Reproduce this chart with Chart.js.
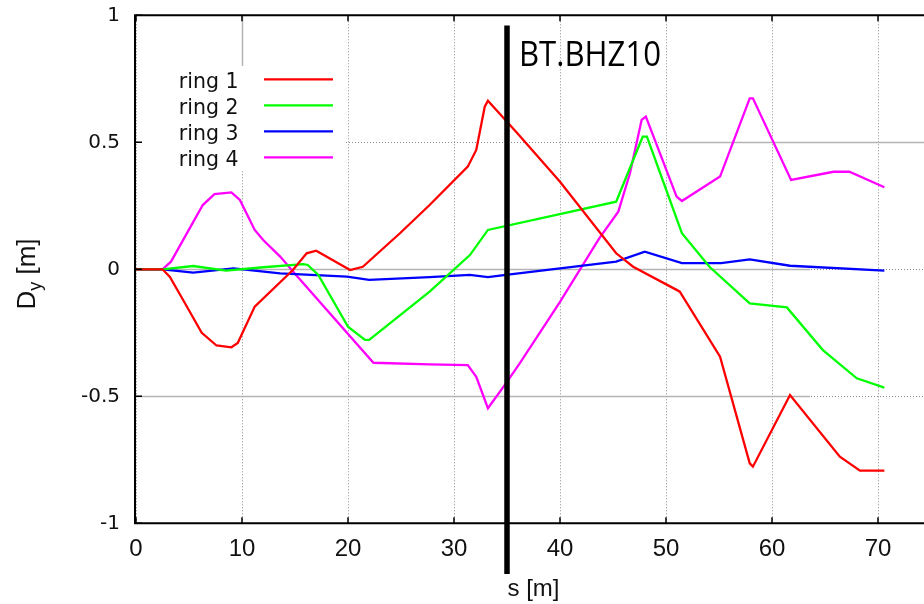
<!DOCTYPE html>
<html><head><meta charset="utf-8">
<script src="https://cdn.jsdelivr.net/npm/chart.js@4"></script>
<style>
html,body{margin:0;padding:0;background:#fff;overflow:hidden;width:924px;height:604px}
#wrap{position:absolute;left:0;top:0;width:944px;height:604px}
</style>
</head><body><div id="wrap"><canvas id="c"></canvas></div>
<script>
// ---- data ----
const seriesNames = ['ring 1', 'ring 2', 'ring 3', 'ring 4'];
const seriesColors = ['#ff0000', '#00ff00', '#0000ff', '#ff00ff'];

const ring1S = [0, 2.5, 3.2, 4.5, 6.2, 7.6, 9.0, 9.6, 11.2, 14.8, 16.1, 17.0, 20.2, 21.4, 24.9, 27.7, 31.3, 32.1, 32.9, 33.2, 36.0, 40.0, 45.3, 46.9, 51.0, 51.3, 55.1, 57.9, 58.2, 61.7, 66.4, 68.3, 70.6];
const ring1D = [0, 0, -0.03, -0.125, -0.25, -0.30, -0.307, -0.29, -0.147, -0.003, 0.063, 0.073, -0.003, 0.01, 0.142, 0.253, 0.404, 0.47, 0.64, 0.664, 0.535, 0.345, 0.063, 0.01, -0.081, -0.088, -0.344, -0.764, -0.777, -0.495, -0.738, -0.793, -0.793];

const ring2S = [0, 2.5, 5.4, 8.5, 12.0, 15.8, 16.2, 17.2, 20.0, 21.6, 22.0, 27.7, 31.5, 33.2, 45.3, 47.8, 48.2, 51.5, 54.1, 57.9, 61.4, 64.8, 68.0, 70.6];
const ring2D = [0, 0, 0.013, -0.005, 0.008, 0.02, 0.017, -0.022, -0.226, -0.278, -0.278, -0.088, 0.056, 0.155, 0.266, 0.522, 0.522, 0.142, 0.01, -0.134, -0.15, -0.318, -0.429, -0.466];

const ring3S = [0, 2.5, 5.4, 9.2, 13.6, 19.9, 22.0, 27.7, 31.5, 33.2, 34.9, 45.3, 48.0, 51.5, 55.2, 57.9, 61.7, 70.6];
const ring3D = [0, 0, -0.013, 0.004, -0.016, -0.029, -0.042, -0.031, -0.022, -0.031, -0.022, 0.03, 0.069, 0.024, 0.024, 0.039, 0.014, -0.005];

const ring4S = [0, 2.5, 3.3, 6.3, 7.4, 9.0, 9.8, 11.2, 12.0, 13.6, 15.1, 22.4, 27.7, 31.3, 32.1, 33.2, 34.9, 36.2, 40.0, 43.7, 45.5, 46.6, 47.7, 48.1, 51.0, 51.5, 55.1, 57.9, 58.2, 61.8, 65.8, 67.3, 70.6];
const ring4D = [0, 0, 0.03, 0.253, 0.296, 0.303, 0.273, 0.155, 0.115, 0.05, -0.022, -0.368, -0.374, -0.377, -0.423, -0.547, -0.449, -0.37, -0.128, 0.122, 0.227, 0.378, 0.588, 0.601, 0.286, 0.269, 0.365, 0.673, 0.673, 0.352, 0.384, 0.384, 0.323];

const xTickValues = [0, 10, 20, 30, 40, 50, 60, 70];
const yTickValues = [-1, -0.5, 0, 0.5, 1];
const xRange = [0, 75];
const yRange = [-1, 1];

const markerS = 35;             // position of BT.BHZ10 along s
const markerSpan = [0.96, -1.2]; // D extent of the marker line
const markerLabel = 'BT.BHZ10';
const xTitle = 's [m]';
const yTitleMain = 'D', yTitleSub = 'y', yTitleUnit = ' [m]';

// ---- build datasets ----
const sArr = [ring1S, ring2S, ring3S, ring4S];
const dArr = [ring1D, ring2D, ring3D, ring4D];
const datasets = seriesNames.map((n, i) => ({
  label: n,
  data: sArr[i].map((s, k) => ({x: s, y: dArr[i][k]})),
  borderColor: seriesColors[i],
  backgroundColor: seriesColors[i],
  borderWidth: 2.3,
  pointRadius: 0,
  tension: 0,
  fill: false
}));

// grid overlay segments (solid grey parts of some grid lines in the reference)
const solidGrid = [
  {axis: 'y', at: 0, from: 0, to: 63.6},
  {axis: 'y', at: -0.5, from: 0, to: 63.6},
  {axis: 'y', at: 0.5, from: 50.4, to: 75},
  {axis: 'x', at: 10, from: 0.8, to: 1}
];

const decor = {
  id: 'decor',
  beforeDatasetsDraw(chart) {
    const {ctx, scales: {x, y}} = chart;
    ctx.save();
    ctx.strokeStyle = '#b4b4b4';
    ctx.lineWidth = 1.5;
    solidGrid.forEach(g => {
      ctx.beginPath();
      if (g.axis === 'y') {
        const py = Math.round(y.getPixelForValue(g.at)) + 0.5;
        ctx.moveTo(x.getPixelForValue(g.from), py);
        ctx.lineTo(x.getPixelForValue(g.to), py);
      } else {
        const px = Math.round(x.getPixelForValue(g.at)) + 0.5;
        ctx.moveTo(px, y.getPixelForValue(g.from));
        ctx.lineTo(px, y.getPixelForValue(g.to));
      }
      ctx.stroke();
    });
    ctx.restore();
  },
  afterDatasetsDraw(chart) {
    const {ctx, chartArea: a, scales: {x, y}} = chart;
    ctx.save();
    // legend box
    ctx.fillStyle = '#fff';
    ctx.fillRect(a.left + 1, 66, 346 - a.left - 1, 104);
    ctx.font = '20.5px "DejaVu Sans"';
    ctx.textAlign = 'right';
    ctx.textBaseline = 'alphabetic';
    chart.data.datasets.forEach((ds, i) => {
      const ly = 79.3 + i * 26;
      ctx.fillStyle = '#111';
      ctx.fillText(ds.label, 238.5, ly + 9);
      ctx.strokeStyle = ds.borderColor;
      ctx.lineWidth = 2.3;
      ctx.beginPath();
      ctx.moveTo(264, ly);
      ctx.lineTo(333, ly);
      ctx.stroke();
    });
    // frame
    ctx.strokeStyle = '#000';
    ctx.lineWidth = 2;
    ctx.beginPath();
    ctx.moveTo(a.right + 5, a.top);
    ctx.lineTo(a.left - 1, a.top);
    ctx.lineTo(a.left - 1, a.bottom);
    ctx.lineTo(a.right + 5, a.bottom);
    ctx.stroke();
    // inner ticks
    ctx.lineWidth = 1.5;
    ctx.beginPath();
    xTickValues.forEach(v => {
      const px = x.getPixelForValue(v);
      ctx.moveTo(px, a.bottom); ctx.lineTo(px, a.bottom - 6);
      ctx.moveTo(px, a.top); ctx.lineTo(px, a.top + 6);
    });
    yTickValues.forEach(v => {
      const py = y.getPixelForValue(v);
      ctx.moveTo(a.left, py); ctx.lineTo(a.left + 6, py);
    });
    ctx.stroke();
    ctx.restore();
  },
  afterDraw(chart) {
    const {ctx, scales: {x, y}} = chart;
    ctx.save();
    // marker line
    const mx = x.getPixelForValue(markerS);
    ctx.strokeStyle = '#000';
    ctx.lineWidth = 5.5;
    ctx.beginPath();
    ctx.moveTo(mx, y.getPixelForValue(markerSpan[0]));
    ctx.lineTo(mx, y.getPixelForValue(markerSpan[1]));
    ctx.stroke();
    // marker label
    ctx.fillStyle = '#000';
    ctx.font = '34px "Open Sans"';
    ctx.textAlign = 'left';
    ctx.textBaseline = 'alphabetic';
    const w = ctx.measureText(markerLabel).width;
    ctx.translate(mx + 12, 65.5);
    ctx.scale(142 / w, 1);
    ctx.fillText(markerLabel, 0, 0);
    ctx.restore();
    // y title with subscript
    ctx.save();
    ctx.fillStyle = '#111';
    const f1 = '26px "Liberation Sans"', f2 = '18px "Liberation Sans"';
    ctx.font = f1; const w1 = ctx.measureText(yTitleMain).width; const w3 = ctx.measureText(yTitleUnit).width;
    ctx.font = f2; const w2 = ctx.measureText(yTitleSub).width;
    const tot = w1 + w2 + w3;
    ctx.translate(35, 274);
    ctx.rotate(-Math.PI / 2);
    ctx.textBaseline = 'alphabetic';
    ctx.textAlign = 'left';
    let cx = -tot / 2;
    ctx.font = f1; ctx.fillText(yTitleMain, cx, 0); cx += w1;
    ctx.font = f2; ctx.fillText(yTitleSub, cx, 6); cx += w2;
    ctx.font = f1; ctx.fillText(yTitleUnit, cx, 0);
    ctx.restore();
  }
};

new Chart(document.getElementById('c'), {
  type: 'line',
  data: {datasets},
  plugins: [decor],
  options: {
    responsive: true,
    maintainAspectRatio: false,
    animation: false,
    devicePixelRatio: 1,
    layout: {padding: {left: 0, top: 15.3, right: 13, bottom: 0}},
    plugins: {legend: {display: false}, tooltip: {enabled: false}},
    scales: {
      x: {
        type: 'linear', min: xRange[0], max: xRange[1],
        afterBuildTicks: s => { s.ticks = xTickValues.map(v => ({value: v})); },
        afterFit: s => { s.height = 80.7; s.paddingLeft = 0; s.paddingRight = 0; },
        grid: {color: '#8a8a8a', lineWidth: 1, drawTicks: false, tickLength: 0},
        border: {display: false, dash: [1, 2]},
        ticks: {color: '#111', font: {family: 'Liberation Sans', size: 24}, padding: 12, maxRotation: 0, autoSkip: false},
        title: {display: true, text: xTitle, color: '#111', font: {family: 'Liberation Sans', size: 24}, padding: {top: 0, bottom: 0}}
      },
      y: {
        type: 'linear', min: yRange[0], max: yRange[1],
        afterBuildTicks: s => { s.ticks = yTickValues.map(v => ({value: v})); },
        afterFit: s => { s.width = 136; s.paddingTop = 0; s.paddingBottom = 0; },
        grid: {color: '#8a8a8a', lineWidth: 1, drawTicks: false, tickLength: 0},
        border: {display: false, dash: [1, 2]},
        ticks: {color: '#111', font: {family: 'DejaVu Sans', size: 20}, padding: 16, callback: v => String(v)}
      }
    }
  }
});
</script>
</body></html>
